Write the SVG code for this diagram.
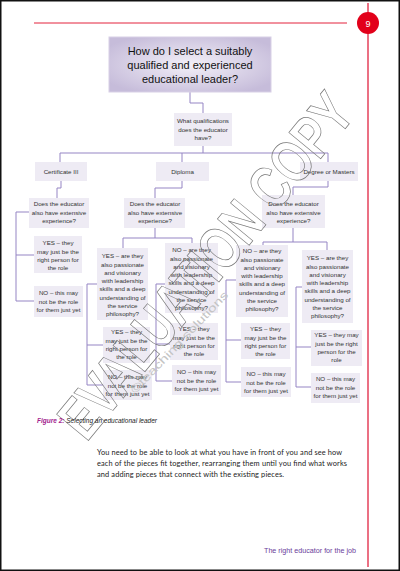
<svg xmlns="http://www.w3.org/2000/svg" width="400" height="571" viewBox="0 0 400 571">
<style>
.box{fill:#eeebf4}
.t{font-family:"Liberation Sans",Arial,sans-serif;font-size:6.2px;fill:#333;text-anchor:middle}
.c{fill:none;stroke:#9585c4;stroke-width:1}
.wm{font-family:"Liberation Sans",Arial,sans-serif;font-weight:bold;fill:none;stroke:#7a7a7a;stroke-width:0.75}
</style>
<defs>
<radialGradient id="tg" cx="0.5" cy="0.5" r="0.6">
<stop offset="0" stop-color="#f3f0f8"/>
<stop offset="1" stop-color="#c6bcda"/>
</radialGradient>
</defs>
<rect x="0" y="0" width="400" height="571" fill="#fff"/>
<rect x="0.75" y="0.75" width="398.5" height="569.5" fill="none" stroke="#111" stroke-width="1.5"/>
<g id="page-decor">
<line x1="34" y1="23" x2="347" y2="23" stroke="#e3223d" stroke-width="1"/>
<line x1="368" y1="3" x2="368" y2="567" stroke="#e5405a" stroke-width="1.5"/>
<circle cx="368" cy="23" r="11" fill="#e2001a"/>
<text x="368" y="26.5" font-family="Liberation Sans,Arial,sans-serif" font-size="9" fill="#fff" text-anchor="middle">9</text>
</g>
<g id="connectors">
<path class="c" d="M190,92 V103 H203 V113"/>
<path class="c" d="M203,146 V153 M60,153 H328 M60,153 V162 M182,153 V162 M328,153 V162"/>
<path class="c" d="M61,181 V188 H57 V198"/>
<path class="c" d="M182,181 V188 H155 V198"/>
<path class="c" d="M328,181 V187 H293 V195"/>
<path class="c" d="M29,212 H16 V301 H34 M16,255 H34"/>
<path class="c" d="M155,228 V238 M123,248 V238 H192 V243"/>
<path class="c" d="M97,284 H87 V385 H103 M87,345 H103"/>
<path class="c" d="M165,284 H156 V381 H172 M156,344 H170"/>
<path class="c" d="M293,228 V242 M263,245 V242 H327 V250"/>
<path class="c" d="M236,280 H226 V382 H241 M226,340 H241"/>
<path class="c" d="M302,287 H296 V387 H311 M296,347 H311"/>
</g>
<g id="title">
<rect x="109" y="37" width="162" height="55" fill="url(#tg)" stroke="#d8d0e6" stroke-width="1"/>
<text font-family="Liberation Sans,Arial,sans-serif" font-size="11" fill="#111" text-anchor="middle"><tspan x="190" y="55">How do I select a suitably</tspan><tspan x="190" y="69">qualified and experienced</tspan><tspan x="190" y="83">educational leader?</tspan></text>
</g>
<g id="qualifications">
<rect class="box" x="174" y="113" width="58" height="33"/>
<text class="t"><tspan x="203" y="123.2">What qualifications</tspan><tspan x="203" y="131.5">does the educator</tspan><tspan x="203" y="139.8">have?</tspan></text>
</g>
<g id="cert3">
<rect class="box" x="35" y="162" width="52" height="19"/>
<text class="t" x="61" y="174.2">Certificate III</text>
</g>
<g id="diploma">
<rect class="box" x="156" y="162" width="53" height="19"/>
<text class="t" x="182.5" y="174.2">Diploma</text>
</g>
<g id="degree">
<rect class="box" x="300" y="162" width="58" height="19"/>
<text class="t" x="329" y="174.2">Degree or Masters</text>
</g>
<g id="cert-q">
<rect class="box" x="29" y="198" width="60" height="30"/>
<text class="t"><tspan x="59" y="206.2">Does the educator</tspan><tspan x="59" y="214.5">also have extensive</tspan><tspan x="59" y="222.8">experience?</tspan></text>
</g>
<g id="cert-yes">
<rect class="box" x="34" y="236" width="48" height="37"/>
<text class="t"><tspan x="58" y="245.2">YES – they</tspan><tspan x="58" y="253.5">may just be the</tspan><tspan x="58" y="261.8">right person for</tspan><tspan x="58" y="270.1">the role</tspan></text>
</g>
<g id="cert-no">
<rect class="box" x="34" y="286" width="49" height="31"/>
<text class="t"><tspan x="58.5" y="295.2">NO – this may</tspan><tspan x="58.5" y="303.5">not be the role</tspan><tspan x="58.5" y="311.8">for them just yet</tspan></text>
</g>
<g id="dip-q">
<rect class="box" x="124" y="198" width="61" height="30"/>
<text class="t"><tspan x="155" y="206.2">Does the educator</tspan><tspan x="155" y="214.5">also have extensive</tspan><tspan x="155" y="222.8">experience?</tspan></text>
</g>
<g id="dip-yes">
<rect class="box" x="97" y="248" width="51" height="72"/>
<text class="t"><tspan x="122.5" y="258.2">YES – are they</tspan><tspan x="122.5" y="266.5">also passionate</tspan><tspan x="122.5" y="274.8">and visionary</tspan><tspan x="122.5" y="283.1">with leadership</tspan><tspan x="122.5" y="291.4">skills and a deep</tspan><tspan x="122.5" y="299.7">understanding of</tspan><tspan x="122.5" y="308">the service</tspan><tspan x="122.5" y="316.3">philosophy?</tspan></text>
</g>
<g id="dip-yes-yes">
<rect class="box" x="103" y="327" width="47" height="36"/>
<text class="t"><tspan x="126.5" y="334.2">YES – they</tspan><tspan x="126.5" y="342.5">may just be the</tspan><tspan x="126.5" y="350.8">right person for</tspan><tspan x="126.5" y="359.1">the role</tspan></text>
</g>
<g id="dip-yes-no">
<rect class="box" x="103" y="370" width="49" height="30"/>
<text class="t"><tspan x="127.5" y="379.2">NO – this may</tspan><tspan x="127.5" y="387.5">not be the role</tspan><tspan x="127.5" y="395.8">for them just yet</tspan></text>
</g>
<g id="dip-no">
<rect class="box" x="165" y="243" width="53" height="70"/>
<text class="t"><tspan x="191.5" y="252.2">NO – are they</tspan><tspan x="191.5" y="260.5">also passionate</tspan><tspan x="191.5" y="268.8">and visionary</tspan><tspan x="191.5" y="277.1">with leadership</tspan><tspan x="191.5" y="285.4">skills and a deep</tspan><tspan x="191.5" y="293.7">understanding of</tspan><tspan x="191.5" y="302">the service</tspan><tspan x="191.5" y="310.3">philosophy?</tspan></text>
</g>
<g id="dip-no-yes">
<rect class="box" x="170" y="323" width="48" height="37"/>
<text class="t"><tspan x="194" y="331.2">YES – they</tspan><tspan x="194" y="339.5">may just be the</tspan><tspan x="194" y="347.8">right person for</tspan><tspan x="194" y="356.1">the role</tspan></text>
</g>
<g id="dip-no-no">
<rect class="box" x="172" y="365" width="49" height="30"/>
<text class="t"><tspan x="196.5" y="374.2">NO – this may</tspan><tspan x="196.5" y="382.5">not be the role</tspan><tspan x="196.5" y="390.8">for them just yet</tspan></text>
</g>
<g id="deg-q">
<rect class="box" x="262" y="195" width="63" height="33"/>
<text class="t"><tspan x="293.5" y="206.2">Does the educator</tspan><tspan x="293.5" y="214.5">also have extensive</tspan><tspan x="293.5" y="222.8">experience?</tspan></text>
</g>
<g id="deg-no">
<rect class="box" x="236" y="245" width="52" height="72"/>
<text class="t"><tspan x="262" y="253.2">NO – are they</tspan><tspan x="262" y="261.5">also passionate</tspan><tspan x="262" y="269.8">and visionary</tspan><tspan x="262" y="278.1">with leadership</tspan><tspan x="262" y="286.4">skills and a deep</tspan><tspan x="262" y="294.7">understanding of</tspan><tspan x="262" y="303">the service</tspan><tspan x="262" y="311.3">philosophy?</tspan></text>
</g>
<g id="deg-no-yes">
<rect class="box" x="241" y="323" width="49" height="36"/>
<text class="t"><tspan x="265.5" y="331.2">YES – they</tspan><tspan x="265.5" y="339.5">may just be the</tspan><tspan x="265.5" y="347.8">right person for</tspan><tspan x="265.5" y="356.1">the role</tspan></text>
</g>
<g id="deg-no-no">
<rect class="box" x="241" y="367" width="50" height="30"/>
<text class="t"><tspan x="266" y="376.2">NO – this may</tspan><tspan x="266" y="384.5">not be the role</tspan><tspan x="266" y="392.8">for them just yet</tspan></text>
</g>
<g id="deg-yes">
<rect class="box" x="302" y="250" width="51" height="73"/>
<text class="t"><tspan x="327.5" y="260.2">YES – are they</tspan><tspan x="327.5" y="268.5">also passionate</tspan><tspan x="327.5" y="276.8">and visionary</tspan><tspan x="327.5" y="285.1">with leadership</tspan><tspan x="327.5" y="293.4">skills and a deep</tspan><tspan x="327.5" y="301.7">understanding of</tspan><tspan x="327.5" y="310">the service</tspan><tspan x="327.5" y="318.3">philosophy?</tspan></text>
</g>
<g id="deg-yes-yes">
<rect class="box" x="311" y="330" width="51" height="36"/>
<text class="t"><tspan x="336.5" y="337.2">YES – they may</tspan><tspan x="336.5" y="345.5">just be the right</tspan><tspan x="336.5" y="353.8">person for the</tspan><tspan x="336.5" y="362.1">role</tspan></text>
</g>
<g id="deg-yes-no">
<rect class="box" x="311" y="373" width="49" height="30"/>
<text class="t"><tspan x="335.5" y="381.2">NO – this may</tspan><tspan x="335.5" y="389.5">not be the role</tspan><tspan x="335.5" y="397.8">for them just yet</tspan></text>
</g>
<g id="watermark">
<text x="0" y="0" font-family="Liberation Sans,Arial,sans-serif" font-size="11" fill="#c4c4c4" text-anchor="middle" textLength="136" lengthAdjust="spacingAndGlyphs" transform="translate(182,345) rotate(-46.5)">©teaching solutions</text>
<text class="wm" x="0" y="0" font-size="60" text-anchor="middle" textLength="425" lengthAdjust="spacingAndGlyphs" transform="translate(205,265) rotate(-50.5) translate(0,21.5)">EVALUATION COPY</text>
</g>
<g id="caption">
<text x="37" y="423" font-family="Liberation Sans,Arial,sans-serif" font-size="6.5" font-style="italic"><tspan fill="#a3238e" font-weight="bold">Figure 2:</tspan><tspan fill="#222"> Selecting an educational leader</tspan></text>
</g>
<g id="body">
<text font-family="Lato,'Open Sans',sans-serif" font-size="7.4" fill="#222" lengthAdjust="spacingAndGlyphs">
<tspan x="97" y="454.8" textLength="245">You need to be able to look at what you have in front of you and see how</tspan>
<tspan x="97" y="465.8" textLength="250">each of the pieces fit together, rearranging them until you find what works</tspan>
<tspan x="97" y="476.5" textLength="187">and adding pieces that connect with the existing pieces.</tspan>
</text>
</g>
<g id="footer">
<text x="356" y="553.4" font-family="Liberation Sans,Arial,sans-serif" font-size="7" fill="#6a3d9a" text-anchor="end" textLength="92" lengthAdjust="spacingAndGlyphs">The right educator for the job</text>
</g>
</svg>
